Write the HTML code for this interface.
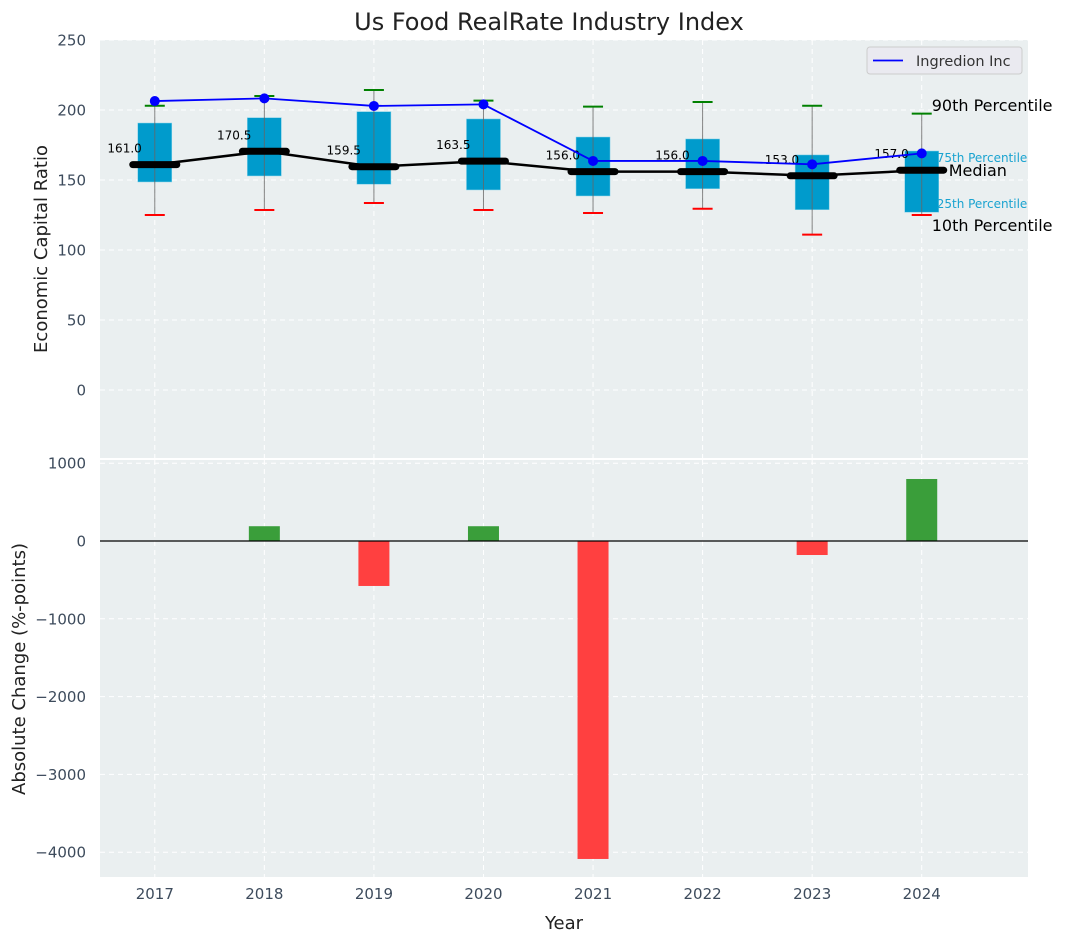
<!DOCTYPE html>
<html><head><meta charset="utf-8"><style>
body{margin:0;background:#fff;}
svg{display:block;font-family:"DejaVu Sans","Liberation Sans",sans-serif;}
</style></head><body>
<svg id="c" width="1067" height="942"></svg>
<script>
const years=[2017,2018,2019,2020,2021,2022,2023,2024];
const p10=[125,128.6,133.6,128.6,126.4,129.5,111,125];
const p25=[148.6,152.9,147,142.9,138.6,143.8,128.8,127];
const medians=[161,170.5,159.5,163.5,156,156,153,157];
const p75=[190.7,194.5,198.8,193.6,180.7,179.3,167.9,170.7];
const p90=[203,210,214.3,206.7,202.4,205.7,203,197.4];
const company=[206.4,208.3,202.9,204,163.6,163.6,161.2,169];
const changes=[0,190,-578,190,-4087,0,-180,797];
const topTicks=[0,50,100,150,200,250];
const botTicks=[1000,0,-1000,-2000,-3000,-4000];

const NS="http://www.w3.org/2000/svg";
const svg=document.getElementById('c');
function mk(t,a,p){const e=document.createElementNS(NS,t);for(const k in a)e.setAttribute(k,a[k]);(p||svg).appendChild(e);return e;}
const L=100,R=1028;
const X=v=>L+(v-2016.5)*(R-L)/8.47;
const Y1=v=>390-1.4*v;
const Y2=v=>541-0.0778*v;

let bg1=mk('rect',{x:L,y:40,width:R-L,height:418,fill:'#eaeff0'});


let bg2=mk('rect',{x:L,y:460,width:R-L,height:417,fill:'#eaeff0'});



years.forEach(y=>{
  mk('line',{x1:X(y),x2:X(y),y1:40,y2:458,stroke:'#fff','stroke-dasharray':'5,4','stroke-width':1});
  mk('line',{x1:X(y),x2:X(y),y1:460,y2:877,stroke:'#fff','stroke-dasharray':'5,4','stroke-width':1});
  const t=mk('text',{x:X(y),y:899,'text-anchor':'middle','font-size':15,fill:'#3d4b5c'});t.textContent=y;
  
  
});
topTicks.forEach(v=>{
  mk('line',{x1:L,x2:R,y1:Y1(v),y2:Y1(v),stroke:'#fff','stroke-dasharray':'5,4'});
  const t=mk('text',{x:86,y:Y1(v)+5.5,'text-anchor':'end','font-size':15,fill:'#3d4b5c'});t.textContent=v;
  
  
});
botTicks.forEach(v=>{
  mk('line',{x1:L,x2:R,y1:Y2(v),y2:Y2(v),stroke:'#fff','stroke-dasharray':'5,4'});
  const t=mk('text',{x:86,y:Y2(v)+5.5,'text-anchor':'end','font-size':15,fill:'#3d4b5c'});t.textContent=(v<0?'\u2212'+(-v):v);
  
  
});

years.forEach((y,i)=>{
  const cx=X(y);
  const b=mk('rect',{x:cx-17,y:Y1(p75[i]),width:34,height:Y1(p25[i])-Y1(p75[i]),fill:'#009bcc',stroke:'#7fd0e8','stroke-width':0.5});
  
  
  mk('line',{x1:cx,x2:cx,y1:Y1(p90[i]),y2:Y1(p10[i]),stroke:'#666','stroke-width':1,opacity:0.8});
  mk('line',{x1:cx-10,x2:cx+10,y1:Y1(p90[i]),y2:Y1(p90[i]),stroke:'green','stroke-width':2});
  mk('line',{x1:cx-10,x2:cx+10,y1:Y1(p10[i]),y2:Y1(p10[i]),stroke:'red','stroke-width':2});
});
mk('polyline',{points:years.map((y,i)=>X(y)+','+Y1(medians[i])).join(' '),fill:'none',stroke:'#000','stroke-width':2.5});
years.forEach((y,i)=>{
  const cx=X(y);
  const m=mk('line',{x1:cx-22,x2:cx+22,y1:Y1(medians[i]),y2:Y1(medians[i]),stroke:'#000','stroke-width':7,'stroke-linecap':'round'});
  
  
  const t=mk('text',{x:cx-13,y:Y1(medians[i])-12,'text-anchor':'end','font-size':12,fill:'#000'});t.textContent=medians[i].toFixed(1);
  
  
});
mk('polyline',{points:years.map((y,i)=>X(y)+','+Y1(company[i])).join(' '),fill:'none',stroke:'#0000ff','stroke-width':1.8});
years.forEach((y,i)=>{
  const d=mk('circle',{cx:X(y),cy:Y1(company[i]),r:5,fill:'#0000ff'});
  
  
});
const last=years.length-1,lx=X(years[last]);
[['90th Percentile',p90[last],16,'#000',10,-2.6],['75th Percentile',p75[last],12,'#1aa3d0',15,11],['Median',medians[last],16,'#000',27,6],['25th Percentile',p25[last],12,'#1aa3d0',15,-4],['10th Percentile',p10[last],16,'#000',10,16]].forEach(a=>{
  const t=mk('text',{x:lx+a[4],y:Y1(a[1])+a[5],'font-size':a[2],fill:a[3]});t.textContent=a[0];
  
  
});
const lg=mk('g',{});


mk('rect',{x:867,y:47,width:155,height:27,rx:3,fill:'#eaeaf0',stroke:'#ccc'},lg);
mk('line',{x1:873,x2:903,y1:60.5,y2:60.5,stroke:'#0000ff','stroke-width':1.8},lg);
const lt=mk('text',{x:916,y:66,'font-size':14.5,fill:'#333'},lg);lt.textContent='Ingredion Inc';

years.forEach((y,i)=>{
  const v=changes[i];if(v===0)return;
  const r=mk('rect',{x:X(y)-15.5,y:Math.min(Y2(0),Y2(v)),width:31,height:Math.abs(Y2(v)-Y2(0)),fill:v>0?'#3a9e3a':'#ff4040'});
  
  
});
mk('line',{x1:L,x2:R,y1:Y2(0),y2:Y2(0),stroke:'#000','stroke-width':1.2});

let tt=mk('text',{x:549,y:30,'text-anchor':'middle','font-size':24,fill:'#222'});tt.textContent='Us Food RealRate Industry Index';

let y1t=mk('text',{x:0,y:0,'text-anchor':'middle','font-size':18,fill:'#222',transform:'translate(47,249) rotate(-90)'});y1t.textContent='Economic Capital Ratio';

let y2t=mk('text',{x:0,y:0,'text-anchor':'middle','font-size':18,fill:'#222',transform:'translate(25,669) rotate(-90)'});y2t.textContent='Absolute Change (%-points)';

let xt=mk('text',{x:564,y:929,'text-anchor':'middle','font-size':18,fill:'#222'});xt.textContent='Year';

</script>
</body></html>
